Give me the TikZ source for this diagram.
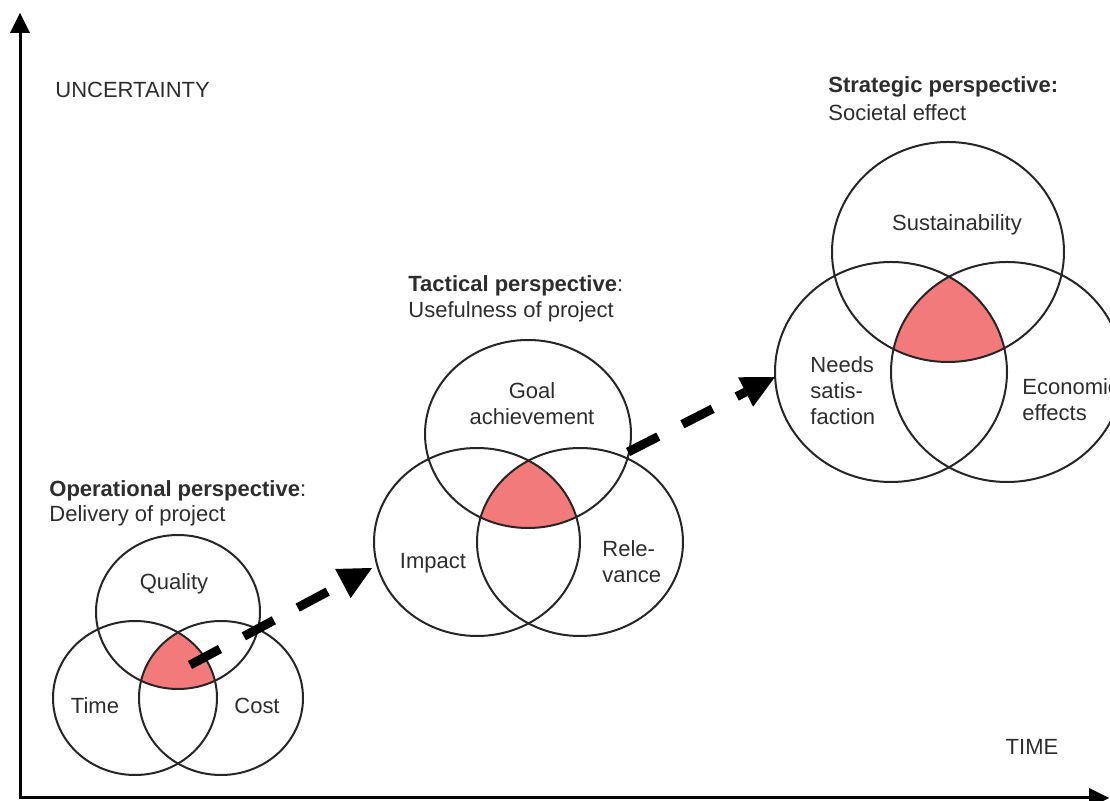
\documentclass[tikz,border=0pt]{standalone}
\usepackage{fontspec}
\setmainfont{Liberation Sans}
\usepackage{tikz}
\usetikzlibrary{arrows.meta,positioning}
\definecolor{overlap}{RGB}{243,122,122}
\definecolor{inkgray}{RGB}{45,45,45}
\tikzset{
    %Define standard arrow tip
    >={Triangle[length=16.5pt,width=16.5pt,line width=0pt]},
    %Define sizes of the three venn diagrams
    opsize/.style={x radius=41pt, y radius=38.5pt},
    tacsize/.style={x radius=51.5pt, y radius=47pt},
    stratsize/.style={x radius=58pt, y radius=55pt},
    %Define style for rings
    ring/.style={
           draw=black!85,
           line width=1pt},
    %Define style for texts
    lbl/.style={
           font=\fontsize{11}{13}\selectfont,
           text=inkgray,
           inner sep=0pt},
    head/.style={
           lbl,
           anchor=base west},
    % Define arrow style
    pil/.style={
           ->,
           line width=4.5pt,
           dash pattern=on 17pt off 13.5pt},
    axis/.style={
           <->,
           line width=1.5pt,
           line join=miter,
           >={Triangle[length=10pt,width=10pt,line width=0pt]}}
}

\begin{document}
\begin{tikzpicture}[x=0.5pt,y=-0.5pt]
\useasboundingbox (0,0) rectangle (1110,801);

% axes
\coordinate (origin) at (20,798);
\coordinate (utop) at (20,13);
\coordinate (tend) at (1109,798);
\draw[axis] (utop) -- (origin) -- (tend);
\node[lbl, anchor=west](uncert) at (55,90){UNCERTAINTY};
\node[lbl](time) at (1032,747){TIME};

% venn centres
\coordinate (qual) at (178,612);
\coordinate (tim) at (135,698);
\coordinate (cost) at (221,698);
\coordinate (goal) at (528,434);
\coordinate (imp) at (477,542);
\coordinate (rel) at (580,542);
\coordinate (sust) at (948,252);
\coordinate (need) at (891,372);
\coordinate (econ) at (1007,372);

% overlaps
\begin{scope}
  \clip (qual) ellipse [opsize];
  \clip (tim) ellipse [opsize];
  \fill[overlap] (cost) ellipse [opsize];
\end{scope}
\begin{scope}
  \clip (goal) ellipse [tacsize];
  \clip (imp) ellipse [tacsize];
  \fill[overlap] (rel) ellipse [tacsize];
\end{scope}
\begin{scope}
  \clip (sust) ellipse [stratsize];
  \clip (need) ellipse [stratsize];
  \fill[overlap] (econ) ellipse [stratsize];
\end{scope}

% rings
\draw[ring] (qual) ellipse [opsize];
\draw[ring] (tim) ellipse [opsize];
\draw[ring] (cost) ellipse [opsize];
\draw[ring] (goal) ellipse [tacsize];
\draw[ring] (imp) ellipse [tacsize];
\draw[ring] (rel) ellipse [tacsize];
\draw[ring] (sust) ellipse [stratsize];
\draw[ring] (need) ellipse [stratsize];
\draw[ring] (econ) ellipse [stratsize];

% headings
\node[head](optitle) at (49,497){\textbf{Operational perspective}:};
\node[head](opsub) at (49,522){Delivery of project};
\node[head](tactitle) at (408,292){\textbf{Tactical perspective}:};
\node[head](tacsub) at (408,318){Usefulness of project};
\node[head](strattitle) at (828,93){\textbf{Strategic perspective:}};
\node[head](stratsub) at (828,121){Societal effect};

% ring labels
\node[lbl](qlbl) at (174,584){Quality};
\node[lbl](tlbl) at (95,706){Time};
\node[lbl](clbl) at (257,706){Cost};
\node[lbl, align=center](glbl) at (532,404){Goal\\achievement};
\node[lbl](ilbl) at (433,563){Impact};
\node[lbl, align=left, anchor=west](rlbl) at (602,562){Rele-\\vance};
\node[lbl](slbl) at (957,225){Sustainability};
\node[lbl, align=left, anchor=west](nlbl) at (810,391){Needs\\satis-\\faction};
\node[lbl, align=left, anchor=west](elbl) at (1022,400){Economic\\effects};

% dashed arrows
\coordinate (opcore) at (190,665);
\coordinate (tacin) at (372,568);
\coordinate (tacout) at (628,452);
\coordinate (stratin) at (775,377);
\draw[pil] (opcore) -- (tacin);
\draw[pil] (tacout) -- (stratin);
\end{tikzpicture}
\end{document}
